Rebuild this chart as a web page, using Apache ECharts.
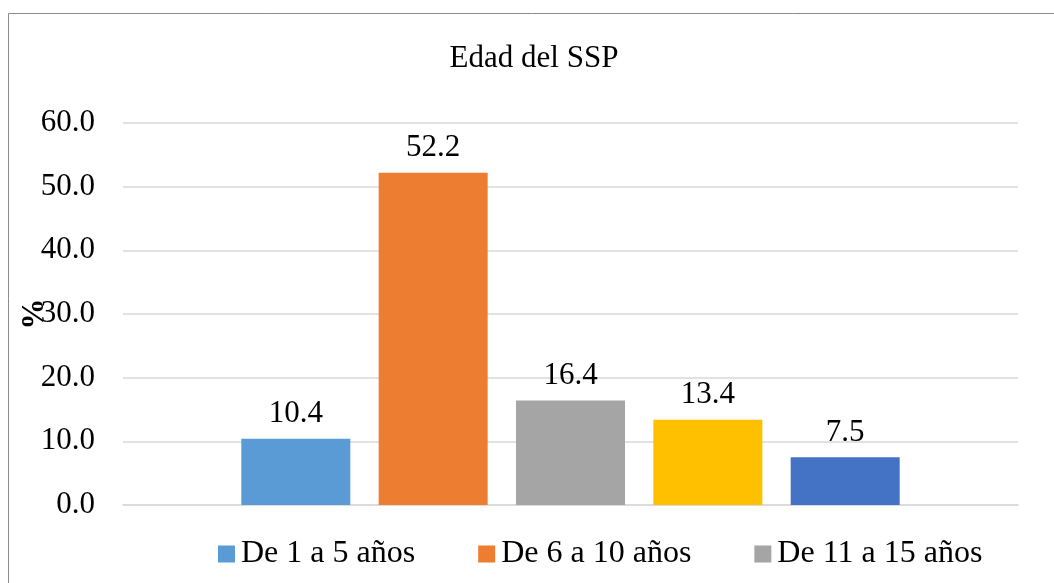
<!DOCTYPE html>
<html>
<head>
<meta charset="utf-8">
<script src="https://cdn.jsdelivr.net/npm/echarts@6/dist/echarts.min.js"></script>
<style>
html,body{margin:0;padding:0;background:#fff;}
#chart{width:1054px;height:583px;}
</style>
</head>
<body>
<div id="chart"></div>
<script>
const categories = ['Edad del SSP'];
const seriesNames = ['De 1 a 5 años', 'De 6 a 10 años', 'De 11 a 15 años', 'De 16 a 20 años', 'Más de 20 años'];
const seriesValues = [10.4, 52.2, 16.4, 13.4, 7.5];
const legendShown = ['De 1 a 5 años', 'De 6 a 10 años', 'De 11 a 15 años'];
const colors = ['#5B9BD5', '#ED7D31', '#A5A5A5', '#FFC000', '#4472C4'];

const FONT = '"Liberation Serif", "Times New Roman", serif';
const FS = 31;
const chart = echarts.init(document.getElementById('chart'));
chart.setOption({
  animation: false,
  textStyle: { fontFamily: FONT },
  title: {
    text: 'Edad del SSP',
    left: 529, textAlign: 'center', top: 38,
    textStyle: { fontFamily: FONT, fontSize: FS, fontWeight: 'normal', color: '#000' }
  },
  graphic: [{
    type: 'rect', silent: true, z: -1,
    shape: { x: 8.5, y: 13.5, width: 1100, height: 600 },
    style: { fill: 'none', stroke: '#8c8c8c', lineWidth: 1 }
  }],
  legend: {
    data: legendShown,
    left: 213, top: 533,
    itemWidth: 17, itemHeight: 17, itemGap: 63,
    icon: 'rect',
    textStyle: { fontFamily: FONT, fontSize: 32, color: '#000', padding: [0, 0, 0, 1] }
  },
  grid: { left: 123, right: 36, top: 123, bottom: 78, outerBoundsMode: 'none', containLabel: false },
  xAxis: {
    type: 'category', data: categories,
    axisLine: { lineStyle: { color: '#d9d9d9', width: 1.5 } },
    axisTick: { show: false }, axisLabel: { show: false }
  },
  yAxis: {
    type: 'value', min: 0, max: 60, interval: 10,
    name: '%', nameLocation: 'middle', nameGap: 73, nameRotate: 90,
    nameMoveOverlap: false,
    nameTextStyle: { fontFamily: FONT, fontSize: FS, fontWeight: 'bold', color: '#000' },
    axisLine: { show: false }, axisTick: { show: false },
    axisLabel: { fontFamily: FONT, fontSize: FS, color: '#000', margin: 28,
      formatter: v => v.toFixed(1) },
    splitLine: { lineStyle: { color: '#d9d9d9', width: 1.5 } }
  },
  series: seriesNames.map((n, i) => ({
    name: n, type: 'bar',
    data: [seriesValues[i]],
    barWidth: 109, barGap: '26%',
    itemStyle: { color: colors[i] },
    label: { show: true, position: 'top', distance: 9,
      fontFamily: FONT, fontSize: FS, color: '#000',
      formatter: p => p.value.toFixed(1) }
  }))
});
</script>
</body>
</html>
